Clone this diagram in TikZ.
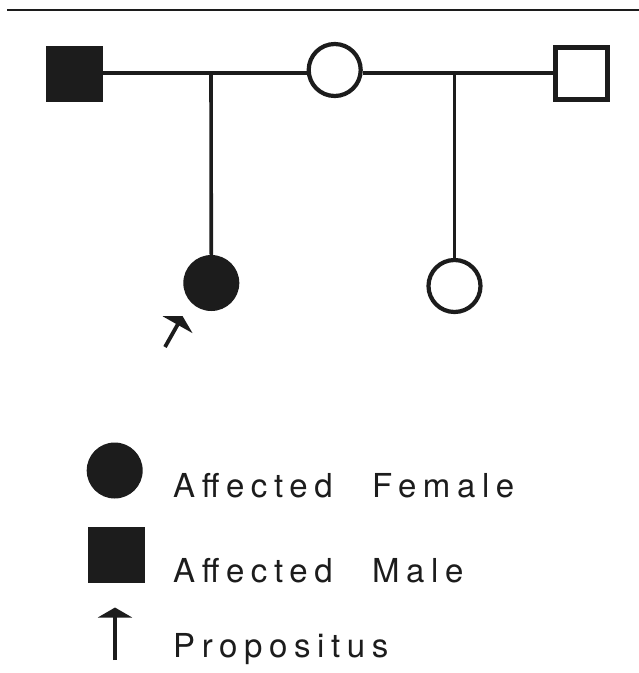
\documentclass[tikz,border=0pt]{standalone}
\usepackage{fontspec}
\setmainfont{TeX Gyre Heros}[LetterSpace=20,WordSpace=2.5]
\usetikzlibrary{arrows.meta}
\definecolor{ink}{HTML}{1C1C1C}
\tikzset{
  fsq/.style={rectangle,fill=ink,draw=none,minimum width=57pt,minimum height=56pt,inner sep=0},
  osq/.style={rectangle,draw=ink,line width=4.2pt,fill=white,minimum width=52pt,minimum height=52pt,inner sep=0},
  fci/.style={circle,fill=ink,draw=none,minimum size=56pt,inner sep=0},
  oci/.style={circle,draw=ink,line width=4.2pt,fill=white,minimum size=52pt,inner sep=0},
  link/.style={draw=ink,line width=3.6pt},
  prop/.style={draw=ink,line width=3.8pt,-{Triangle[width=34pt,length=10pt]}},
  lbl/.style={anchor=base west,inner sep=0,text=ink,font=\fontsize{33}{36}\selectfont}
}
\begin{document}
\begin{tikzpicture}[x=1pt,y=-1pt]
\useasboundingbox (0,0) rectangle (639,673);
% top rule
\coordinate (r1) at (7,9.5);
\coordinate (r2) at (639,9.5);
\draw[draw=ink,line width=2pt] (r1) -- (r2);
% parents
\node[fsq] (f1) at (74.5,74) {};
\node[oci] (mom) at (334.7,70) {};
\node[osq] (f2) at (581.5,73.5) {};
\coordinate (m1) at (211,72.7);
\coordinate (m2) at (454.5,72.7);
\draw[link] (f1.east |- m1) -- (mom.west |- m1);
\draw[link] (mom.east |- m2) -- (f2.west |- m2);
% children
\node[fci] (prob) at (211.3,283) {};
\node[oci] (sib) at (454.5,286) {};
\draw[link] (m1) -- (prob.north);
\draw[link] (m2) -- (sib.north);
% propositus arrow
\coordinate (pa1) at (165,347);
\coordinate (pa2) at (182.5,316);
\draw[prop] (pa1) -- (pa2);
% legend
\node[fci] (lc) at (114.7,470.5) {};
\node[fsq] (ls) at (116.5,555) {};
\coordinate (la1) at (115,660);
\coordinate (la2) at (115,607.5);
\draw[prop] (la1) -- (la2);
\node[lbl] (t1) at (173,497) {Affected Female};
\node[lbl] (t2) at (173,582) {Affected Male};
\node[lbl] (t3) at (173,657) {Propositus};
\end{tikzpicture}
\end{document}
